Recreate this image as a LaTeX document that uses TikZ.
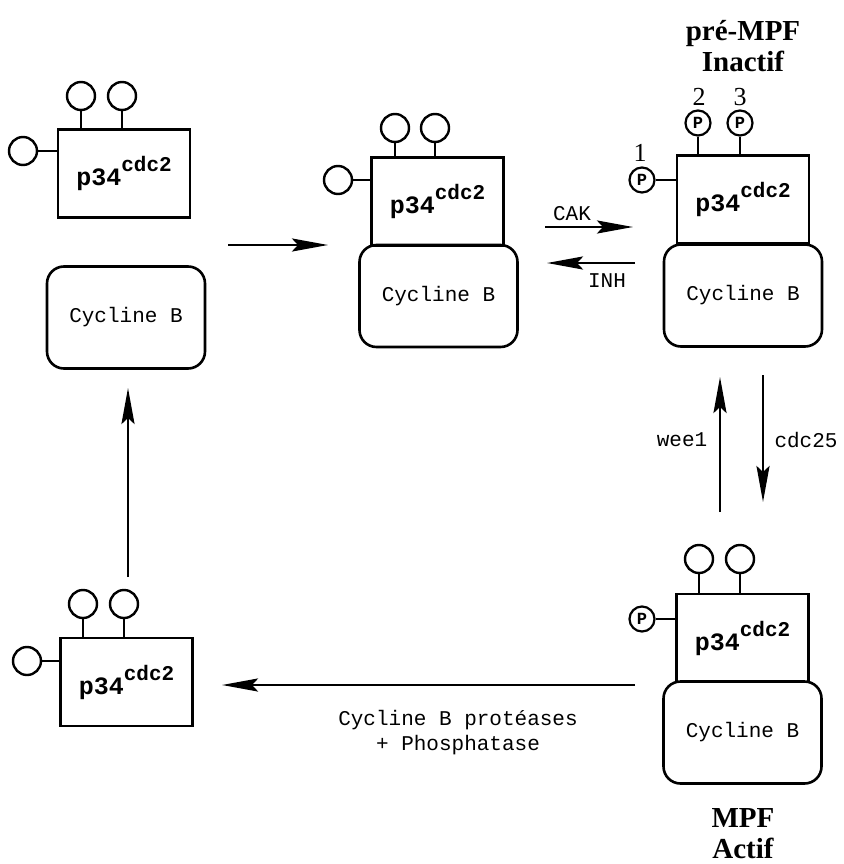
\documentclass[tikz,border=0pt]{standalone}
\usepackage{fontspec}
\usepackage{tikz}
\usetikzlibrary{arrows.meta}
\newfontfamily\cour{Liberation Mono}
\newfontfamily\tnr{Liberation Serif}
\newcommand{\pcdc}{p34\raisebox{14pt}{\fontsize{21}{24}\selectfont cdc2}}

\tikzset{
  kinase/.style={draw, line width=2.6pt, minimum width=132pt, minimum height=88pt, inner sep=0pt, font=\cour\bfseries\fontsize{25}{28}\selectfont},
  cycline/.style={draw, line width=2.6pt, rounded corners=17pt, minimum width=158pt, minimum height=102pt, font=\cour\fontsize{21}{24}\selectfont},
  site/.style={circle, draw, line width=2.4pt, minimum size=28pt, inner sep=0pt},
  phos/.style={circle, draw, line width=2.2pt, minimum size=25pt, inner sep=0pt, font=\cour\bfseries\fontsize{17}{17}\selectfont},
  stem/.style={line width=2.4pt},
  react/.style={line width=2.8pt, -{Stealth[length=36pt, width=13pt, inset=6pt]}},
  lbl/.style={font=\cour\fontsize{21}{25}\selectfont},
  title/.style={font=\tnr\bfseries\fontsize{29}{31}\selectfont, align=center},
  num/.style={font=\tnr\fontsize{26}{28}\selectfont}
}

\begin{document}
\begin{tikzpicture}[x=1pt, y=-1pt]
    \useasboundingbox (0,0) rectangle (843,864);
    % free p34 (top left)
    \node[kinase] at (124, 173.5) (tlk) {\pcdc};
    \node[site] at (81, 96) (tl1) {}; \node[site] at (122, 96) (tl2) {}; \node[site] at (23, 151) (tl0) {};
    \draw[stem] (tl1.south) -- (tl1 |- tlk.north); \draw[stem] (tl2.south) -- (tl2 |- tlk.north);
    \draw[stem] (tl0.east) -- (tl0 -| tlk.west);
    \node[cycline] at (126, 317.5) (tlc) {Cycline B};
    % complex (top middle)
    \node[cycline] at (438.5, 296) (mc) {Cycline B};
    \node[kinase] at (437.5, 201.5) (mk) {\pcdc};
    \node[site] at (395, 128) (m1) {}; \node[site] at (435, 128) (m2) {}; \node[site] at (338, 180) (m0) {};
    \draw[stem] (m1.south) -- (m1 |- mk.north); \draw[stem] (m2.south) -- (m2 |- mk.north);
    \draw[stem] (m0.east) -- (m0 -| mk.west);
    % pre-MPF (top right)
    \node[title] at (743, 46) (pre) {pré-MPF\\Inactif};
    \node[cycline] at (743, 295.5) (rc) {Cycline B};
    \node[kinase] at (743, 199.5) (rk) {\pcdc};
    \node[phos] at (698, 123) (r2) {P}; \node[phos] at (740, 123) (r3) {P}; \node[phos] at (642, 180) (r1) {P};
    \draw[stem] (r2.south) -- (r2 |- rk.north); \draw[stem] (r3.south) -- (r3 |- rk.north);
    \draw[stem] (r1.east) -- (r1 -| rk.west);
    \node[num] at (640, 153) (n1) {1}; \node[num] at (699, 97) (n2) {2}; \node[num] at (740, 97) (n3) {3};
    % MPF (bottom right)
    \node[cycline] at (742.5, 732.5) (bc) {Cycline B};
    \node[kinase] at (742.5, 638) (bk) {\pcdc};
    \node[site] at (699, 559) (b1) {}; \node[site] at (740, 559) (b2) {}; \node[phos] at (642, 619) (b0) {P};
    \draw[stem] (b1.south) -- (b1 |- bk.north); \draw[stem] (b2.south) -- (b2 |- bk.north);
    \draw[stem] (b0.east) -- (b0 -| bk.west);
    \node[title] at (743, 834) (mpf) {MPF\\Actif};
    % free p34 (bottom left)
    \node[kinase] at (126.5, 682) (lk) {\pcdc};
    \node[site] at (83, 604) (l1) {}; \node[site] at (124, 604) (l2) {}; \node[site] at (27, 661) (l0) {};
    \draw[stem] (l1.south) -- (l1 |- lk.north); \draw[stem] (l2.south) -- (l2 |- lk.north);
    \draw[stem] (l0.east) -- (l0 -| lk.west);
    % reactions
    \coordinate (as) at (228, 245); \coordinate (ae) at (328, 245);
    \draw[react] (as) -- (ae);
    \coordinate (cs) at (545, 227); \coordinate (ce) at (633, 227);
    \draw[react] (cs) -- (ce);
    \node[lbl] at (572, 214) (cak) {CAK};
    \coordinate (is) at (635, 263); \coordinate (ie) at (547, 263);
    \draw[react] (is) -- (ie);
    \node[lbl] at (607, 281) (inh) {INH};
    \coordinate (ws) at (720, 512); \coordinate (we) at (720, 377);
    \draw[react] (ws) -- (we);
    \node[lbl] at (682, 440) (wee) {wee1};
    \coordinate (ds) at (763, 375); \coordinate (de) at (763, 502);
    \draw[react] (ds) -- (de);
    \node[lbl] at (806, 440) (cdc) {cdc25};
    \coordinate (ps) at (635, 685); \coordinate (pe) at (222, 685);
    \draw[react] (ps) -- (pe);
    \node[lbl, align=center] at (458, 733) (prot) {Cycline B protéases\\+ Phosphatase};
    \coordinate (vs) at (128, 577); \coordinate (ve) at (128, 388);
    \draw[react] (vs) -- (ve);
\end{tikzpicture}
\end{document}
